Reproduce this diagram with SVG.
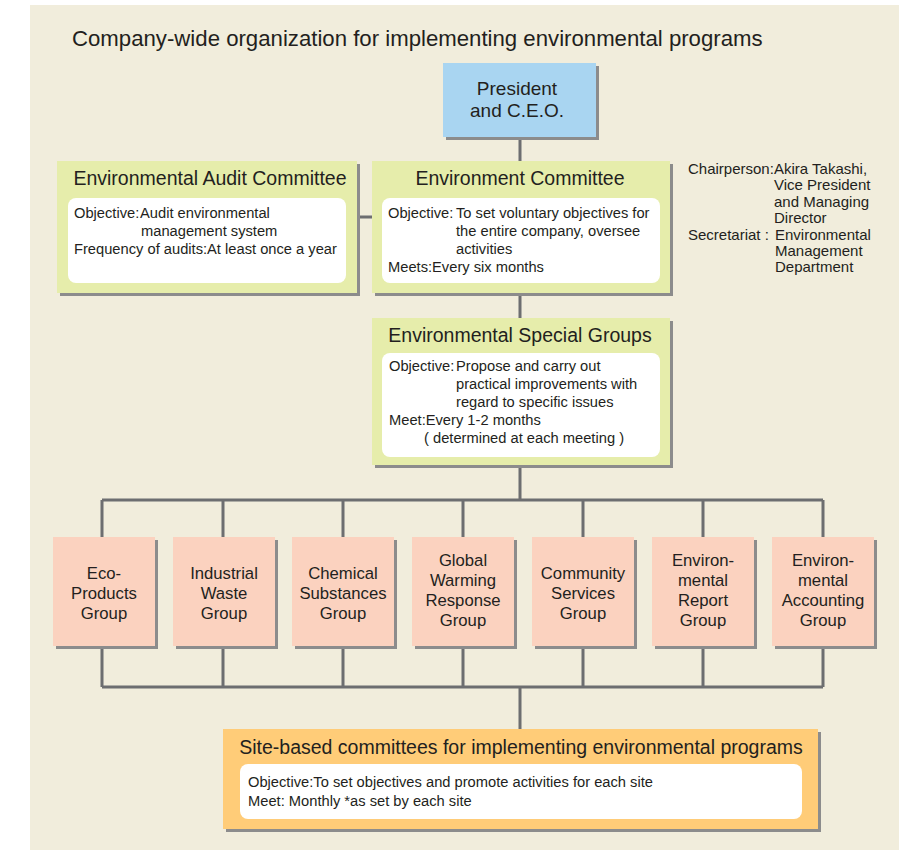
<svg xmlns="http://www.w3.org/2000/svg" width="913" height="850" viewBox="0 0 913 850">
<defs>
<style>
text{font-family:"Liberation Sans",Arial,sans-serif;fill:#231f20}
.title{font-size:22.2px}
.head{font-size:19.5px;text-anchor:middle}
.body{font-size:14.7px}
.note{font-size:15px}
.grp{font-size:16.7px;text-anchor:middle}
.shadow{fill:#8c8c8c}
.inner{fill:#ffffff}
.conn{fill:none;stroke:#6d6e70;stroke-width:3}
.blue{fill:#a9d5f1}
.green{fill:#e6edab}
.pink{fill:#fbd2bf}
.orange{fill:#ffcc78}
</style>
</defs>
<rect x="0" y="0" width="913" height="850" fill="#ffffff"/>
<rect x="30" y="5" width="869" height="845" fill="#f1eddc"/>
<text class="title" x="72" y="46">Company-wide organization for implementing environmental programs</text>

<g id="connectors">
<path class="conn" d="M520 137V162M357 217H372M520 293V318M520 466V500M102 500H823M102 500V537M223 500V537M343 500V537M463 500V537M583 500V537M703 500V537M823 500V537M102 646V687M223 646V687M343 646V687M463 646V687M583 646V687M703 646V687M823 646V687M102 687H823M520 687V729"/>
</g>

<g id="president">
<rect class="shadow" x="446" y="66" width="153" height="74"/>
<rect class="blue" x="443" y="63" width="153" height="74"/>
<text class="head" x="517" y="95" style="font-size:19px">President</text>
<text class="head" x="517" y="117" style="font-size:19px">and C.E.O.</text>
</g>

<g id="audit-committee">
<rect class="shadow" x="60" y="164" width="300" height="132"/>
<rect class="green" x="57" y="161" width="300" height="132"/>
<text class="head" x="210" y="185">Environmental Audit Committee</text>
<rect class="inner" x="68" y="198" width="278" height="85" rx="8"/>
<text class="body" x="74" y="218">Objective:</text>
<text class="body" x="140" y="218">Audit environmental</text>
<text class="body" x="141" y="236">management system</text>
<text class="body" x="74" y="254">Frequency of audits:At least once a year</text>
</g>

<g id="environment-committee">
<rect class="shadow" x="375" y="164" width="298" height="132"/>
<rect class="green" x="372" y="161" width="298" height="132"/>
<text class="head" x="520" y="185">Environment Committee</text>
<rect class="inner" x="382" y="198" width="278" height="85" rx="8"/>
<text class="body" x="388" y="218">Objective:</text>
<text class="body" x="456" y="218">To set voluntary objectives for</text>
<text class="body" x="456" y="236">the entire company, oversee</text>
<text class="body" x="456" y="254">activities</text>
<text class="body" x="388" y="272">Meets:Every six months</text>
</g>

<g id="chairperson-note">
<text class="note" x="688" y="174">Chairperson:</text>
<text class="note" x="774" y="174">Akira Takashi,</text>
<text class="note" x="774" y="190">Vice President</text>
<text class="note" x="774" y="207">and Managing</text>
<text class="note" x="774" y="223">Director</text>
<text class="note" x="688" y="240">Secretariat :</text>
<text class="note" x="775" y="240">Environmental</text>
<text class="note" x="775" y="256">Management</text>
<text class="note" x="775" y="272">Department</text>
</g>

<g id="special-groups">
<rect class="shadow" x="375" y="321" width="298" height="147"/>
<rect class="green" x="372" y="318" width="298" height="147"/>
<text class="head" x="520" y="342">Environmental Special Groups</text>
<rect class="inner" x="382" y="353" width="278" height="104" rx="8"/>
<text class="body" x="389" y="371">Objective:</text>
<text class="body" x="456" y="371">Propose and carry out</text>
<text class="body" x="456" y="389">practical improvements with</text>
<text class="body" x="456" y="407">regard to specific issues</text>
<text class="body" x="389" y="425">Meet:Every 1-2 months</text>
<text class="body" x="424" y="443">( determined at each meeting )</text>
</g>

<g id="eco-products">
<rect class="shadow" x="56" y="540" width="102" height="109"/>
<rect class="pink" x="53" y="537" width="102" height="109"/>
<text class="grp" x="104" y="579">Eco-</text>
<text class="grp" x="104" y="599">Products</text>
<text class="grp" x="104" y="619">Group</text>
</g>
<g id="industrial-waste">
<rect class="shadow" x="176" y="540" width="102" height="109"/>
<rect class="pink" x="173" y="537" width="102" height="109"/>
<text class="grp" x="224" y="579">Industrial</text>
<text class="grp" x="224" y="599">Waste</text>
<text class="grp" x="224" y="619">Group</text>
</g>
<g id="chemical-substances">
<rect class="shadow" x="295" y="540" width="102" height="109"/>
<rect class="pink" x="292" y="537" width="102" height="109"/>
<text class="grp" x="343" y="579">Chemical</text>
<text class="grp" x="343" y="599">Substances</text>
<text class="grp" x="343" y="619">Group</text>
</g>
<g id="global-warming">
<rect class="shadow" x="415" y="540" width="102" height="109"/>
<rect class="pink" x="412" y="537" width="102" height="109"/>
<text class="grp" x="463" y="566">Global</text>
<text class="grp" x="463" y="586">Warming</text>
<text class="grp" x="463" y="606">Response</text>
<text class="grp" x="463" y="626">Group</text>
</g>
<g id="community-services">
<rect class="shadow" x="535" y="540" width="102" height="109"/>
<rect class="pink" x="532" y="537" width="102" height="109"/>
<text class="grp" x="583" y="579">Community</text>
<text class="grp" x="583" y="599">Services</text>
<text class="grp" x="583" y="619">Group</text>
</g>
<g id="environmental-report">
<rect class="shadow" x="655" y="540" width="102" height="109"/>
<rect class="pink" x="652" y="537" width="102" height="109"/>
<text class="grp" x="703" y="566">Environ-</text>
<text class="grp" x="703" y="586">mental</text>
<text class="grp" x="703" y="606">Report</text>
<text class="grp" x="703" y="626">Group</text>
</g>
<g id="environmental-accounting">
<rect class="shadow" x="775" y="540" width="102" height="109"/>
<rect class="pink" x="772" y="537" width="102" height="109"/>
<text class="grp" x="823" y="566">Environ-</text>
<text class="grp" x="823" y="586">mental</text>
<text class="grp" x="823" y="606">Accounting</text>
<text class="grp" x="823" y="626">Group</text>
</g>

<g id="site-committees">
<rect class="shadow" x="226" y="732" width="595" height="100"/>
<rect class="orange" x="223" y="729" width="595" height="100"/>
<text class="head" x="521" y="754">Site-based committees for implementing environmental programs</text>
<rect class="inner" x="240" y="764" width="562" height="55" rx="8"/>
<text class="body" x="248" y="787">Objective:To set objectives and promote activities for each site</text>
<text class="body" x="248" y="806">Meet: Monthly *as set by each site</text>
</g>
</svg>
